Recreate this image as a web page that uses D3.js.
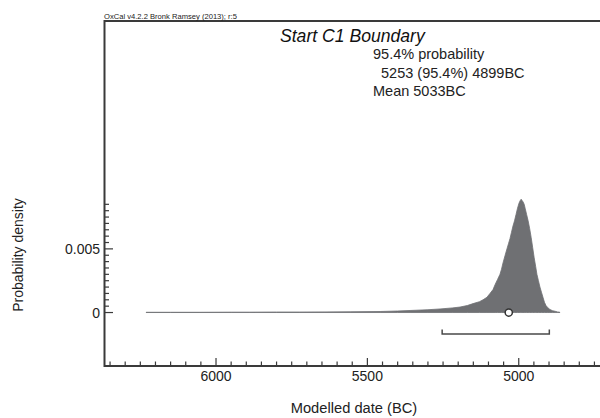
<!DOCTYPE html>
<html><head><meta charset="utf-8">
<script src="https://cdn.jsdelivr.net/npm/d3@7"></script>
<style>body{margin:0;background:#fff}svg{display:block;font-family:"Liberation Sans",Arial,sans-serif}</style>
</head><body><svg id="c" width="600" height="418"></svg>
<script>
// Data
const years = [6231,6150,6053,5950,5888,5800,5723,5640,5557,5458,5400,5359,5300,5260,5220,5194,5170,5151,5130,5118,5105,5095,5085,5078,5070,5062,5057,5052,5045,5039,5034,5029,5024,5019,5014,5009,5004,4999,4995,4992,4989,4986,4982,4979,4974,4969,4964,4959,4954,4949,4944,4940,4935,4930,4925,4920,4915,4910,4904,4897,4888,4880,4872,4864];
const density = [0.00002,0.00002,0.00002,0.00003,0.00003,0.00004,0.00004,0.00005,0.00006,0.00008,0.00012,0.00016,0.00022,0.00028,0.00036,0.00043,0.00055,0.0007,0.00085,0.001,0.0012,0.0015,0.0018,0.0022,0.0026,0.003,0.0034,0.0039,0.0045,0.005,0.0054,0.0058,0.0063,0.0068,0.0072,0.0077,0.0082,0.0086,0.0088,0.0089,0.0088,0.0087,0.0085,0.0082,0.0077,0.0072,0.0066,0.0059,0.0051,0.0043,0.0036,0.003,0.0025,0.002,0.0016,0.0012,0.0008,0.00055,0.00038,0.00024,0.00014,0.0001,0.00005,0.00002];
const rangeFrom = 5253, rangeTo = 4899, meanYear = 5033;
const xMajorTicks = [6000, 5500, 5000];
const yMajorTicks = [0, 0.005];
const yTickLabels = ["0", "0.005"];
const xTickLabels = ["6000", "5500", "5000"];
const titleText = "Start C1 Boundary";
const infoLines = ["95.4% probability", "  5253 (95.4%) 4899BC", "Mean 5033BC"];
const headerText = "OxCal v4.2.2 Bronk Ramsey (2013); r:5";

const svg = d3.select("#c");
const L = 104.5, R = 603, T = 21, B = 366;
const x = d3.scaleLinear().domain([6370, 4725]).range([104, 602]);
const y = d3.scaleLinear().domain([-0.0042, 0.0229]).range([366, 21]);
const ink = "#3a3a3a";

// distribution
const pts = years.map((yr,i)=>[yr, density[i]]);
svg.append("path").datum(pts)
  .attr("d", d3.area().x(d=>x(d[0])).y0(y(0)).y1(d=>y(d[1])))
  .attr("fill", "#6f7073").attr("stroke", "#6f7073").attr("stroke-width", 0.8);

// range bar
const yb = 334;
svg.append("path")
  .attr("d", `M${x(rangeFrom)},${yb-4.5}V${yb}H${x(rangeTo)}V${yb-4.5}`)
  .attr("fill","none").attr("stroke","#4a4a4a").attr("stroke-width",1.5);

// mean
svg.append("circle").attr("cx", x(meanYear)).attr("cy", y(0)).attr("r", 3.6)
  .attr("fill","#fff").attr("stroke","#333").attr("stroke-width",1.5);

// frame
svg.append("path").attr("d", `M${R},${T}H${L}V${B}H${R}`)
  .attr("fill","none").attr("stroke",ink).attr("stroke-width",2);

// x ticks
const xMinor = d3.range(6350, 4700, -50);
svg.append("g").selectAll("line").data(xMinor).join("line")
  .attr("x1",d=>x(d)).attr("x2",d=>x(d)).attr("y1",B).attr("y2",d=>xMajorTicks.includes(d)?B-8:B-4.5)
  .attr("stroke",ink).attr("stroke-width",1.2);
svg.append("g").selectAll("text").data(xMajorTicks).join("text")
  .attr("x",d=>x(d)).attr("y",380.5).attr("text-anchor","middle")
  .attr("font-size",14).attr("fill","#222").text((d,i)=>xTickLabels[i]);

// y ticks
const yMinor = d3.range(0, 0.00851, 0.0005);
svg.append("g").selectAll("line").data(yMinor).join("line")
  .attr("x1",L).attr("x2",d=>yMajorTicks.some(m=>Math.abs(m-d)<1e-9)?L+8.5:L+4.5)
  .attr("y1",d=>y(d)).attr("y2",d=>y(d))
  .attr("stroke",ink).attr("stroke-width",1.2);
svg.append("g").selectAll("text").data(yMajorTicks).join("text")
  .attr("x",100).attr("y",d=>y(d)+5).attr("text-anchor","end")
  .attr("font-size",14).attr("fill","#222").text((d,i)=>yTickLabels[i]);

// labels
svg.append("text").attr("x",354).attr("y",413).attr("text-anchor","middle")
  .attr("font-size",14.7).attr("fill","#222").text("Modelled date (BC)");
svg.append("text").attr("transform","translate(23,255) rotate(-90)").attr("text-anchor","middle")
  .attr("font-size",14).attr("fill","#222").text("Probability density");

svg.append("text").attr("x",104).attr("y",18.5).attr("font-size",7.6).attr("fill","#222").text(headerText);
svg.append("text").attr("x",280).attr("y",42).attr("font-size",17.6).attr("font-style","italic").attr("fill","#111").text(titleText);
const info = [[373,59],[373,78],[373,96]];
infoLines.forEach((t,i)=>svg.append("text").attr("x",info[i][0]).attr("y",info[i][1])
  .attr("font-size",14.5).attr("fill","#222").attr("xml:space","preserve").style("white-space","pre").text(t));
</script></body></html>
